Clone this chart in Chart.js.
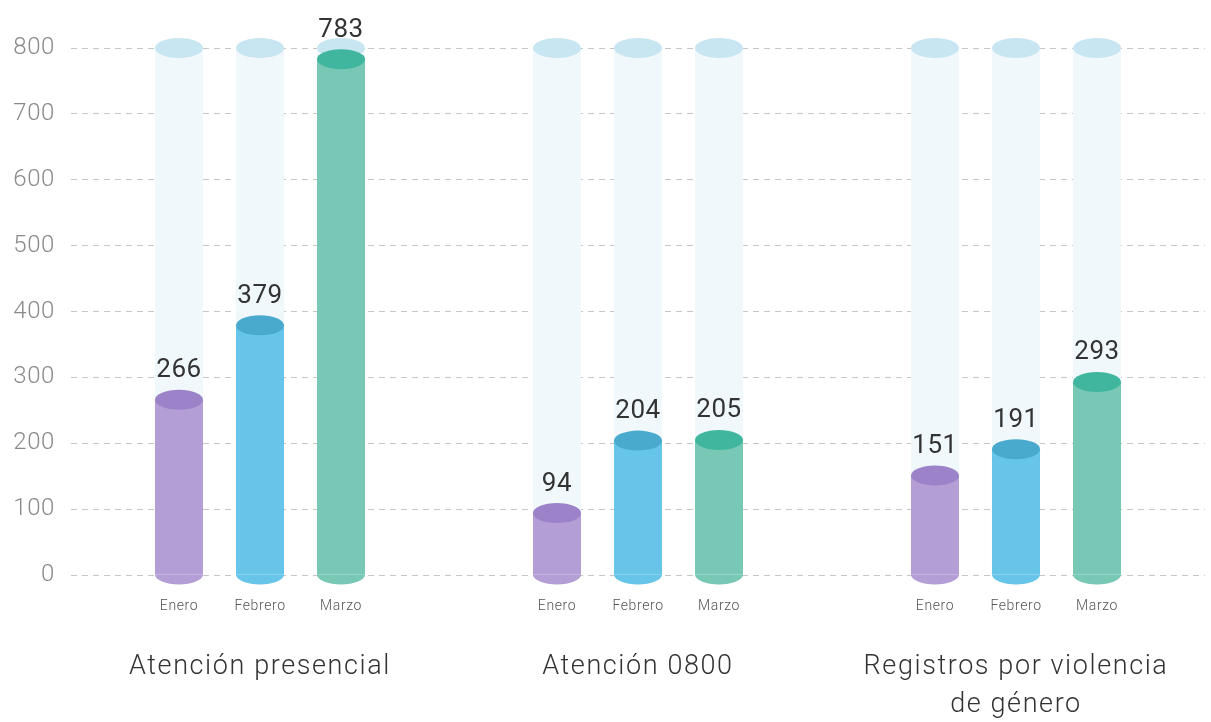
<!DOCTYPE html>
<html>
<head>
<meta charset="utf-8">
<script src="https://cdn.jsdelivr.net/npm/chart.js@4"></script>
<style>
html,body{margin:0;padding:0;background:#fff;}
#wrap{width:1211px;height:722px;position:relative;}
</style>
</head>
<body>
<div id="wrap"><canvas id="c" width="1211" height="722"></canvas></div>
<script>
// ---- data ----
const groups = [['Atención presencial'], ['Atención 0800'], ['Registros por violencia', 'de género']];
const months = ['Enero', 'Febrero', 'Marzo'];
const enero = [266, 94, 151];
const febrero = [379, 204, 191];
const marzo = [783, 205, 293];
const yMax = 800;
const yStep = 100;
const capacity = 800;

// ---- styles ----
const bodyColors = ['#b39ed6', '#66c5e8', '#78c8b5'];
const capColors  = ['#9c82c8', '#4aaacd', '#40b69e'];
const paleBody = '#f0f8fc';
const paleCap = '#c8e5f2';
const FONT = 'Roboto, "DejaVu Sans", sans-serif';

const series = [enero, febrero, marzo];

const datasets = months.map((m, i) => ({
  label: m, data: series[i],
  backgroundColor: bodyColors[i], categoryPercentage: 0.643, barPercentage: 0.593,
  _cap: capColors[i], _body: bodyColors[i], _month: m
}));

const cylinder = {
  id: 'cylinder',
  beforeDraw(chart) {
    chart.ctx.letterSpacing = '0.6px';
  },
  beforeDatasetsDraw(chart) {
    const ctx = chart.ctx;
    const yTop = chart.scales.y.getPixelForValue(capacity);
    ctx.save();
    chart.data.datasets.forEach((ds, i) => {
      chart.getDatasetMeta(i).data.forEach(el => {
        const p = el.getProps(['x', 'base', 'width'], true);
        const rx = p.width / 2, ry = 10;
        ctx.fillStyle = paleBody;
        ctx.fillRect(p.x - rx, yTop, p.width, p.base - yTop);
        ctx.fillStyle = paleCap;
        ctx.beginPath();
        ctx.ellipse(p.x, yTop, rx, ry, 0, 0, Math.PI * 2);
        ctx.fill();
      });
    });
    ctx.restore();
  },
  afterDatasetDraw(chart, args) {
    const ds = chart.data.datasets[args.index];
    const ctx = chart.ctx;
    ctx.save();
    args.meta.data.forEach(el => {
      const p = el.getProps(['x', 'y', 'base', 'width'], true);
      const rx = p.width / 2, ry = 10;
      ctx.fillStyle = ds._body;
      ctx.beginPath();
      ctx.ellipse(p.x, p.base, rx, ry, 0, 0, Math.PI);
      ctx.fill();
      ctx.fillStyle = ds._cap;
      ctx.beginPath();
      ctx.ellipse(p.x, p.y, rx, ry, 0, 0, Math.PI * 2);
      ctx.fill();
    });
    ctx.restore();
  },
  afterDatasetsDraw(chart) {
    const ctx = chart.ctx;
    ctx.save();
    ctx.textAlign = 'center';
    ctx.textBaseline = 'middle';
    chart.data.datasets.forEach((ds, i) => {
      chart.getDatasetMeta(i).data.forEach((el, j) => {
        const p = el.getProps(['x', 'y', 'base'], true);
        ctx.fillStyle = '#333333';
        ctx.font = '400 26px ' + FONT;
        ctx.fillText(String(ds.data[j]), p.x, p.y - 29);
        ctx.fillStyle = '#555555';
        ctx.font = '300 14px ' + FONT;
        ctx.fillText(ds._month, p.x, chart.chartArea.bottom + 31);
      });
    });
    ctx.restore();
    // group titles (x ticks, drawn after datasets) get wider tracking
    ctx.letterSpacing = '1.6px';
  }
};

new Chart(document.getElementById('c'), {
  type: 'bar',
  data: { labels: groups, datasets: datasets },
  options: {
    responsive: false,
    animation: false,
    devicePixelRatio: 1,
    layout: { padding: { top: 48, right: 6, left: 0, bottom: 0 } },
    plugins: { legend: { display: false }, tooltip: { enabled: false } },
    scales: {
      x: {
        offset: true,
        grid: { display: false, drawTicks: false },
        border: { display: false },
        ticks: {
          z: 1,
          padding: 73,
          color: '#333333',
          font: { family: FONT, size: 27, weight: 300, lineHeight: 1.41 },
          maxRotation: 0
        },
        afterFit(scale) { scale.height = 147; scale.paddingLeft = 0; scale.paddingRight = 0; }
      },
      y: {
        min: 0, max: yMax,
        ticks: {
          stepSize: yStep,
          padding: 16,
          color: '#8a8a8a',
          font: { family: FONT, size: 24, weight: 300 }
        },
        grid: { color: '#c6c6c6', lineWidth: 1, drawTicks: false },
        border: { display: false, dash: [6, 5] },
        afterFit(scale) { scale.width = 71; }
      }
    }
  },
  plugins: [cylinder]
});
</script>
</body>
</html>
